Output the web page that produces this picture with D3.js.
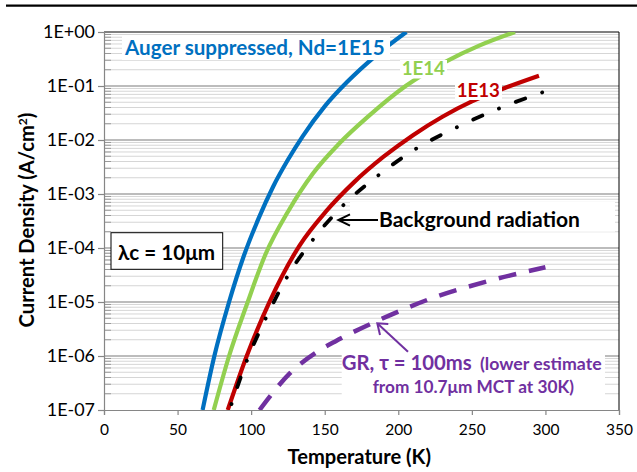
<!DOCTYPE html>
<html><head><meta charset="utf-8">
<script src="https://cdn.jsdelivr.net/npm/d3@7"></script>
<style>body{margin:0;background:#fff}svg{display:block}</style>
</head><body>
<svg id="c" width="637" height="472"></svg>
<script>
// ---- data ----
const xTicks = [0, 50, 100, 150, 200, 250, 300, 350];
const yTickValues = [1, 1e-1, 1e-2, 1e-3, 1e-4, 1e-5, 1e-6, 1e-7];
const yTickLabels = ["1E+00", "1E-01", "1E-02", "1E-03", "1E-04", "1E-05", "1E-06", "1E-07"];

// Auger suppressed, Nd = 1E15 (blue)
const nd15T = [67, 75, 85, 95, 105, 115, 125, 135, 150, 165, 185, 205.5];
const nd15J = [1.0e-7, 1.0e-6, 1.0e-5, 7.1e-5, 3.5e-4, 1.38e-3, 4.3e-3, 1.17e-2, 4.2e-2, 0.117, 0.37, 1.0];
// Nd = 1E14 (green)
const nd14T = [74.6, 85, 97, 110, 125, 142, 160, 180, 205, 233, 255, 279.3];
const nd14J = [1.0e-7, 1.0e-6, 8.9e-6, 7.9e-5, 4.7e-4, 2.4e-3, 8.7e-3, 2.8e-2, 0.10, 0.29, 0.56, 1.0];
// Nd = 1E13 (red)
const nd13T = [84.1, 97, 112.8, 133, 151, 170, 190, 210, 230, 250, 272, 295.6];
const nd13J = [1.0e-7, 1.0e-6, 1.05e-5, 1.12e-4, 4.8e-4, 1.66e-3, 4.9e-3, 1.23e-2, 2.7e-2, 5.2e-2, 9.1e-2, 0.155];
// Background radiation (black dash-dot)
const bgT = [85.3, 97.0, 110.1, 124.6, 142.2, 163.4, 187.2, 213.2, 240.8, 269.6, 299.2];
const bgJ = [1.0e-7, 8.1e-7, 5.1e-6, 2.95e-5, 1.45e-4, 6.5e-4, 2.3e-3, 7.2e-3, 1.77e-2, 3.96e-2, 7.85e-2];
// GR, tau = 100 ms (purple dashed)
const grT = [105.7, 126.4, 146.8, 157.7, 185.5, 223.8, 260.1, 300];
const grJ = [1.0e-7, 4.8e-7, 1.29e-6, 1.9e-6, 4.45e-6, 1.2e-5, 2.4e-5, 4.4e-5];

// ---- drawing ----
const FONT = "Lato, 'Noto Sans', 'DejaVu Sans', sans-serif";
const svg = d3.select("#c");
const L = 104, R = 619, T = 32, B = 410;
const x = d3.scaleLinear().domain([0, 350]).range([L, R]);
const y = d3.scaleLog().domain([1e-7, 1]).range([B, T]);

function fit(sel, w) {
  const fs = parseFloat(sel.attr("font-size"));
  const len = sel.node().getComputedTextLength();
  sel.attr("font-size", fs * w / len);
  return fs * w / len;
}

// top rule
svg.append("line").attr("x1", 6).attr("x2", 637).attr("y1", 5.7).attr("y2", 5.7)
  .attr("stroke", "#000").attr("stroke-width", 2.2);

// gridlines
const allTicks = y.ticks();
const minor = allTicks.filter(v => Math.abs(Math.log10(v) - Math.round(Math.log10(v))) > 1e-6);
svg.append("g").selectAll("line").data(minor).join("line")
  .attr("x1", L).attr("x2", R).attr("y1", d => y(d)).attr("y2", d => y(d))
  .attr("stroke", "#d6d6d6").attr("stroke-width", 1);
svg.append("g").selectAll("line").data(yTickValues.slice(1, -1)).join("line")
  .attr("x1", L).attr("x2", R).attr("y1", d => y(d)).attr("y2", d => y(d))
  .attr("stroke", "#a6a6a6").attr("stroke-width", 1.5);
// minor ticks inside
svg.append("g").selectAll("line").data(minor).join("line")
  .attr("x1", L).attr("x2", L + 7).attr("y1", d => y(d)).attr("y2", d => y(d))
  .attr("stroke", "#999").attr("stroke-width", 1);

// plot border
svg.append("line").attr("x1", L).attr("x2", R).attr("y1", T).attr("y2", T).attr("stroke", "#000").attr("stroke-width", 1);
svg.append("line").attr("x1", R).attr("x2", R).attr("y1", T).attr("y2", B).attr("stroke", "#000").attr("stroke-width", 1);

// axes
const yAxis = d3.axisLeft(y).tickValues(yTickValues).tickFormat((d, i) => yTickLabels[i]).tickSize(6).tickPadding(3);
const gy = svg.append("g").attr("transform", `translate(${L},0)`).call(yAxis);
const xAxis = d3.axisBottom(x).tickValues(xTicks).tickFormat(d3.format("d")).tickSize(5).tickPadding(9);
const gx = svg.append("g").attr("transform", `translate(0,${B})`).call(xAxis);
[gx, gy].forEach(g => {
  g.select(".domain").attr("stroke", "#868686").attr("stroke-width", 1.2);
  g.selectAll(".tick line").attr("stroke", "#868686").attr("stroke-width", 1.2);
  g.selectAll("text").attr("font-family", FONT).attr("fill", "#000").attr("font-size", 16);
});
{
  const t0 = gy.select(".tick text");
  const fsY = fit(t0, 52);
  gy.selectAll(".tick text").attr("font-size", fsY).attr("x", -9);
  const tx = gx.selectAll(".tick text").filter(d => d === 350);
  const fsX = fit(tx, 27);
  gx.selectAll(".tick text").attr("font-size", fsX);
}

// curves
const clip = svg.append("clipPath").attr("id", "plotclip");
clip.append("rect").attr("x", L).attr("y", T).attr("width", R - L).attr("height", B - T);
const plot = svg.append("g").attr("clip-path", "url(#plotclip)");
const line = d3.line().x(d => x(d[0])).y(d => y(d[1])).curve(d3.curveMonotoneX);
const zip = (a, b) => a.map((v, i) => [v, b[i]]);

plot.append("path").datum(zip(grT, grJ)).attr("d", line).attr("fill", "none")
  .attr("stroke", "#7030A0").attr("stroke-width", 4.5).attr("stroke-dasharray", "18 13");
plot.append("path").datum(zip(nd15T, nd15J)).attr("d", line).attr("fill", "none")
  .attr("stroke", "#0070C0").attr("stroke-width", 4.2);
plot.append("path").datum(zip(nd14T, nd14J)).attr("d", line).attr("fill", "none")
  .attr("stroke", "#92D050").attr("stroke-width", 4.2);
plot.append("path").datum(zip(nd13T, nd13J)).attr("d", line).attr("fill", "none")
  .attr("stroke", "#C00000").attr("stroke-width", 4.2);
plot.append("path").datum(zip(bgT, bgJ)).attr("d", line).attr("fill", "none")
  .attr("stroke", "#000").attr("stroke-width", 3.8).attr("stroke-linecap", "round")
  .attr("stroke-dasharray", "0.1 18 10 18").attr("stroke-dashoffset", 40);

// labels with white backgrounds
function boxLabel(txt, color, x0, base, w, box, size) {
  svg.append("rect").attr("x", box[0]).attr("y", box[1]).attr("width", box[2] - box[0]).attr("height", box[3] - box[1])
    .attr("fill", "#fff");
  const t = svg.append("text").attr("x", x0).attr("y", base).attr("font-family", FONT).attr("font-weight", "bold")
    .attr("font-size", size || 20).attr("fill", color).text(txt);
  fit(t, w);
  return t;
}
boxLabel("Auger suppressed, Nd=1E15", "#0070C0", 125, 55, 260, [122, 36, 390, 60]);
boxLabel("1E14", "#92D050", 401.7, 75, 43.3, [400, 60, 447, 78.5]);
boxLabel("1E13", "#C00000", 456.7, 96.7, 43.3, [455, 81.7, 502, 100]);

// lambda box
svg.append("rect").attr("x", 111).attr("y", 232.7).attr("width", 111.7).attr("height", 36.6)
  .attr("fill", "#fff").attr("stroke", "#000").attr("stroke-width", 1);
fit(svg.append("text").attr("x", 118).attr("y", 260).attr("font-family", FONT).attr("font-weight", "bold")
  .attr("font-size", 20).attr("fill", "#000").text("λc = 10μm"), 97);

// background radiation annotation
boxLabel("Background radiation", "#000", 379, 226.7, 201, [350, 202, 615, 231.7]);
svg.append("line").attr("x1", 378).attr("x2", 339).attr("y1", 220).attr("y2", 220).attr("stroke", "#000").attr("stroke-width", 2);
svg.append("path").attr("d", "M350,214.3 L338.3,220 L350,225.7").attr("fill", "none").attr("stroke", "#000").attr("stroke-width", 2);

// GR annotation
svg.append("rect").attr("x", 341.7).attr("y", 355).attr("width", 263.3).attr("height", 40).attr("fill", "#fff");
const purple = "#7030A0";
fit(svg.append("text").attr("x", 341.7).attr("y", 370).attr("font-family", FONT).attr("font-weight", "bold")
  .attr("font-size", 20).attr("fill", purple).text("GR, τ = 100ms"), 130);
fit(svg.append("text").attr("x", 480).attr("y", 370).attr("font-family", FONT).attr("font-weight", "bold")
  .attr("font-size", 16).attr("fill", purple).text("(lower estimate"), 121.7);
fit(svg.append("text").attr("x", 372.7).attr("y", 393.3).attr("font-family", FONT).attr("font-weight", "bold")
  .attr("font-size", 16).attr("fill", purple).text("from 10.7μm MCT at 30K)"), 201.3);
svg.append("line").attr("x1", 408).attr("y1", 351.7).attr("x2", 378.3).attr("y2", 324.3).attr("stroke", purple).attr("stroke-width", 2);
svg.append("path").attr("d", "M388.3,324 L377.3,323.3 L380,335").attr("fill", "none").attr("stroke", purple).attr("stroke-width", 2);

// axis titles
fit(svg.append("text").attr("x", 287.5).attr("y", 464).attr("font-family", FONT).attr("font-weight", "bold")
  .attr("font-size", 18).attr("fill", "#000").text("Temperature (K)"), 143.5);
const yt = svg.append("text").attr("transform", "translate(34,220) rotate(-90)").attr("text-anchor", "middle")
  .attr("font-family", FONT).attr("font-weight", "bold").attr("font-size", 18).attr("fill", "#000");
yt.append("tspan").text("Current Density (A/cm");
yt.append("tspan").attr("font-size", "0.6em").attr("dy", "-0.55em").text("2");
yt.append("tspan").attr("dy", "0.33em").text(")");
fit(yt, 215);
</script>
</body></html>
